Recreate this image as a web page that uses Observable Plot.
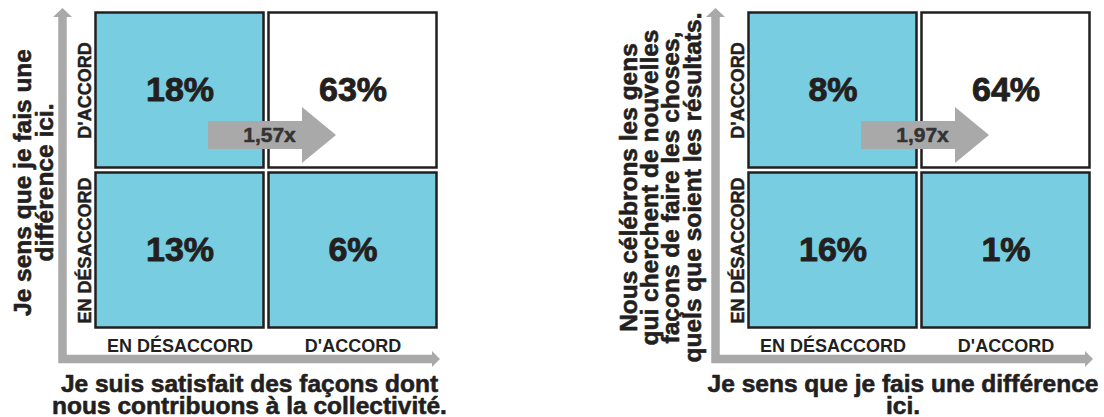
<!DOCTYPE html>
<html>
<head>
<meta charset="utf-8">
<script src="https://cdn.jsdelivr.net/npm/d3@7"></script>
<script src="https://cdn.jsdelivr.net/npm/@observablehq/plot@0.6"></script>
<style>
  html, body { margin: 0; padding: 0; background: #fff; overflow: hidden; }
  #chart { display: flex; width: 1104px; height: 417px; }
</style>
</head>
<body>
<div id="chart"></div>
<script>
// ---- data ----
const colLabels = ["EN DÉSACCORD", "D'ACCORD"];          // x categories (left → right)
const rowLabels = ["D'ACCORD", "EN DÉSACCORD"];          // y categories (top → bottom)
// cell order: [row, col]
const cellKeys = [["D'ACCORD", "EN DÉSACCORD"], ["D'ACCORD", "D'ACCORD"], ["EN DÉSACCORD", "EN DÉSACCORD"], ["EN DÉSACCORD", "D'ACCORD"]];
const panel1Values = [18, 63, 13, 6];
const panel2Values = [8, 64, 16, 1];
const ratios = ["1,57x", "1,97x"];
const xTitles = [
  "Je suis satisfait des façons dont\nnous contribuons à la collectivité.",
  "Je sens que je fais une différence\nici."
];
const yTitles = [
  "Je sens que je fais une\ndifférence ici.",
  "Nous célébrons les gens\nqui cherchent de nouvelles\nfaçons de faire les choses,\nquels que soient les résultats."
];

// ---- styles / layout ----
const CYAN = "#78cee0", GREY = "#a9a9a9", INK = "#231f20";
const FONT = "'Liberation Sans', Arial, Helvetica, sans-serif";
const layouts = [
  {width: 600, marginLeft: 93, marginRight: 161, yTitleDx: -41, yTitleDy: 12, xTitleDx: -17},
  {width: 504, marginLeft: 146, marginRight: 12, yTitleDx: -46, yTitleDy: 17, xTitleDx: -16.5}
];
const heavy = (size, color = INK, sw = 0.6) => ({fontSize: size, fontWeight: "bold", fill: color, stroke: color, strokeWidth: sw});

function guideAxes(index, scales, values, dims) {
  const {width, height, marginLeft, marginRight, marginTop, marginBottom} = dims;
  const left = marginLeft, right = width - marginRight, bottom = height - marginBottom;
  const vx = left - 30.5, hy = bottom + 29, w = 8.5;
  const g = d3.create("svg:g").attr("fill", GREY);
  g.append("path").attr("d", [
    [vx - w / 2, hy + w / 2], [vx - w / 2, marginTop + 7], [vx - 9.5, marginTop + 7],
    [vx, marginTop - 2], [vx + 9.5, marginTop + 7], [vx + w / 2, marginTop + 7],
    [vx + w / 2, hy - w / 2], [right - 7, hy - w / 2], [right - 7, hy - 8],
    [right + 1, hy], [right - 7, hy + 8], [right - 7, hy + w / 2]
  ].map((p, i) => (i ? "L" : "M") + p[0] + "," + p[1]).join("") + "Z");
  return g.node();
}

function blockArrow(index, scales, values, dims) {
  const {width, height, marginLeft, marginRight, marginTop, marginBottom} = dims;
  const cx = (marginLeft + width - marginRight) / 2;
  const cy = (marginTop + height - marginBottom) / 2 - 35;
  const pts = [[cx - 58, cy - 14], [cx + 36, cy - 14], [cx + 36, cy - 28], [cx + 70, cy],
               [cx + 36, cy + 28], [cx + 36, cy + 14], [cx - 58, cy + 14]];
  const g = d3.create("svg:g");
  g.append("path").attr("fill", GREY)
    .attr("d", pts.map((p, i) => (i ? "L" : "M") + p[0] + "," + p[1]).join("") + "Z");
  return g.node();
}

function panel(i, values) {
  const L = layouts[i];
  const cells = cellKeys.map(([row, col], k) => ({row, col, value: values[k]}));
  return Plot.plot({
    width: L.width,
    height: 417,
    marginLeft: L.marginLeft,
    marginRight: L.marginRight,
    marginTop: 10,
    marginBottom: 87,
    x: {domain: colLabels, padding: 0},
    y: {domain: rowLabels, padding: 0, axis: null},
    color: {type: "identity"},
    style: {fontFamily: FONT, fontWeight: "bold", color: INK, background: "white", overflow: "visible"},
    marks: [
      guideAxes,
      Plot.cell(cells, {
        x: "col", y: "row",
        fill: d => (d.row === "D'ACCORD" && d.col === "D'ACCORD") ? "white" : CYAN,
        stroke: INK, strokeWidth: 2.5, inset: 2.5
      }),
      blockArrow,
      Plot.text([ratios[i]], {frameAnchor: "middle", dx: 3, dy: -35, lineAnchor: "middle", ...heavy(21, "#333", 0.5)}),
      Plot.text(cells, {x: "col", y: "row", text: d => d.value + "%", lineAnchor: "middle", ...heavy(34, INK, 0.9)}),
      Plot.axisX({anchor: "bottom", tickSize: 0, tickPadding: 9, label: null, ...heavy(18, INK, 0.5)}),
      Plot.text(rowLabels, {y: d => d, frameAnchor: "left", rotate: -90, dx: -3, textAnchor: "middle", lineAnchor: "bottom", ...heavy(18, INK, 0.5)}),
      Plot.text([xTitles[i]], {frameAnchor: "bottom", dx: L.xTitleDx, dy: 83, textAnchor: "middle", lineAnchor: "bottom", lineHeight: 0.86, ...heavy(24.5, INK, 0.6)}),
      Plot.text([yTitles[i]], {frameAnchor: "left", dx: L.yTitleDx, dy: L.yTitleDy, rotate: -90, textAnchor: "middle", lineAnchor: "bottom", lineHeight: 0.86, ...heavy(24.5, INK, 0.6)})
    ]
  });
}

const chart = document.getElementById("chart");
chart.append(panel(0, panel1Values));
chart.append(panel(1, panel2Values));
</script>
</body>
</html>
